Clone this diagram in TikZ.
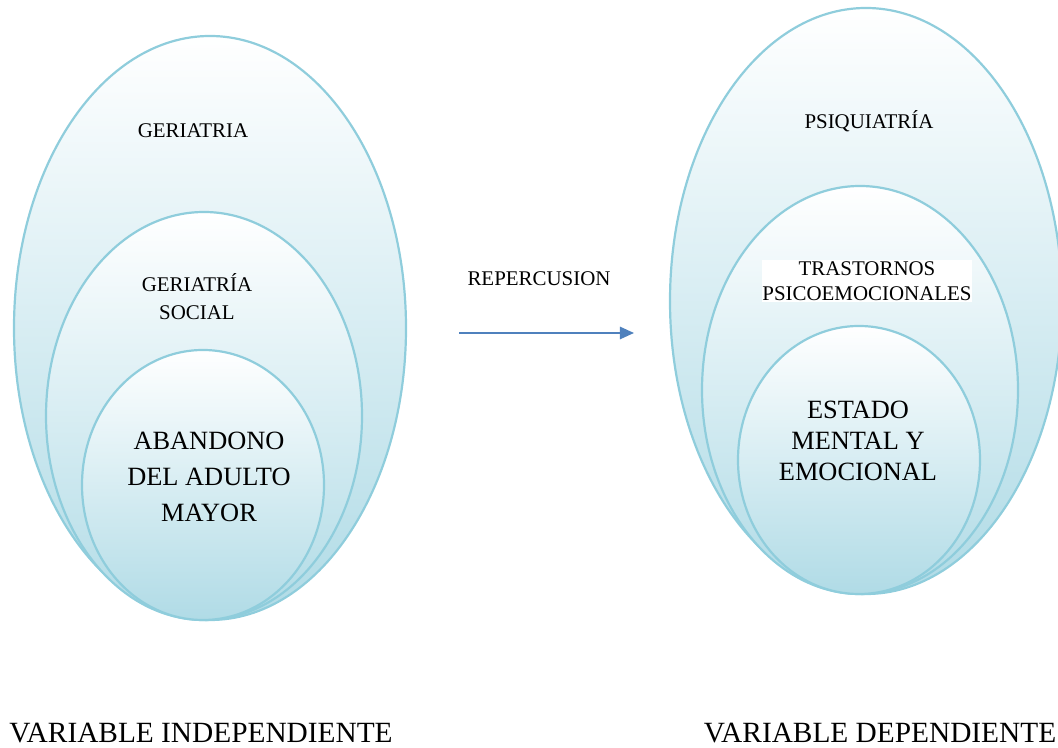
\documentclass[tikz,border=0pt]{standalone}
\usepackage{fontspec}
\setmainfont{Liberation Serif}
\usetikzlibrary{arrows.meta, shapes.geometric}

\definecolor{rimblue}{RGB}{143,205,220}
\definecolor{bubblelow}{RGB}{176,219,230}
\definecolor{arrowblue}{RGB}{79,129,189}

\tikzset{
  bubble/.style={ellipse, draw=rimblue, line width=1.25pt, inner sep=0pt,
    top color=white, bottom color=bubblelow},
  smalllbl/.style={font=\fontsize{11.9}{15.9}\selectfont, align=center, inner sep=1pt},
  biglbl/.style={font=\fontsize{15}{20.4}\selectfont, align=center},
  varlbl/.style={font=\fontsize{16.7}{19}\selectfont}
}

\begin{document}
\begin{tikzpicture}
\useasboundingbox (0,0) rectangle (21.16,14.96);

% left side
\node[bubble, minimum width=7.84cm, minimum height=11.68cm] (ger) at (4.2,8.4) {};
\node[bubble, minimum width=6.32cm, minimum height=8.16cm] (gersoc) at (4.08,6.64) {};
\node[bubble, minimum width=4.84cm, minimum height=5.4cm] (aband) at (4.06,5.26) {};

\node[smalllbl] (gerlbl) at (3.86,12.34) {GERIATRIA};
\node[smalllbl] (gersoclbl) at (3.94,9.02) {GERIATRÍA\\SOCIAL};
\node[biglbl] (abandlbl) at (4.18,5.42) {ABANDONO\\DEL ADULTO\\MAYOR};

% right side
\node[bubble, minimum width=7.84cm, minimum height=11.72cm] (psiq) at (17.32,8.94) {};
\node[bubble, minimum width=6.32cm, minimum height=8.16cm] (trast) at (17.2,7.16) {};
\node[bubble, minimum width=4.84cm, minimum height=5.36cm] (estado) at (17.18,5.76) {};

\node[smalllbl] (psiqlbl) at (17.38,12.54) {PSIQUIATRÍA};
\node[smalllbl, fill=white, inner sep=0.5pt, font=\fontsize{11.9}{14.5}\selectfont] (trastlbl) at (17.34,9.34) {TRASTORNOS\\PSICOEMOCIONALES};
\node[biglbl, font=\fontsize{15}{17.6}\selectfont] (estadolbl) at (17.16,6.14) {ESTADO\\MENTAL Y\\EMOCIONAL};

% arrow
\node[smalllbl] (rep) at (10.78,9.38) {REPERCUSION};
\coordinate (arrstart) at (9.18,8.3);
\coordinate (arrend) at (12.68,8.3);
\draw[arrowblue, line width=1.1pt, -{Triangle[length=8pt,width=7pt]}] (arrstart) -- (arrend);

\node[varlbl] (indep) at (4.02,0.3) {VARIABLE INDEPENDIENTE};
\node[varlbl] (dep) at (17.6,0.3) {VARIABLE DEPENDIENTE};
\end{tikzpicture}
\end{document}
